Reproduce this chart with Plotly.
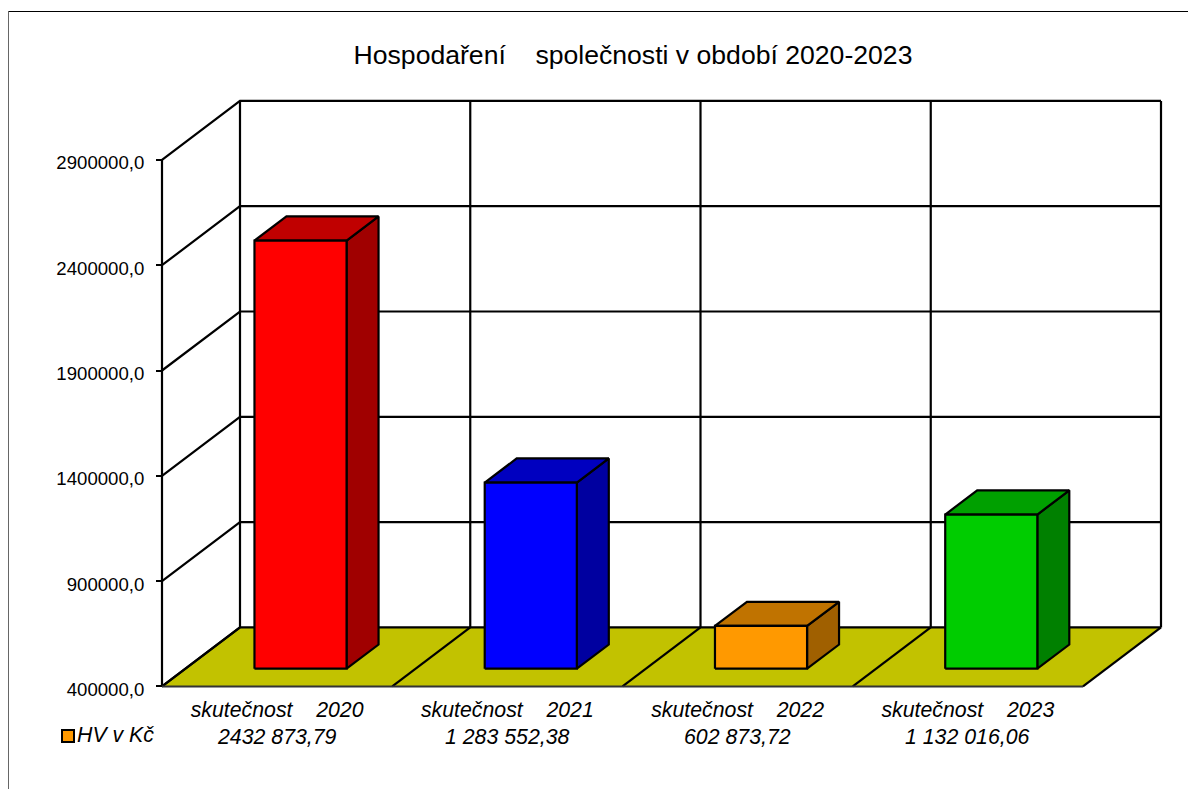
import plotly.graph_objects as go

# --- data ---
categories = ["skutečnost    2020", "skutečnost    2021", "skutečnost    2022", "skutečnost    2023"]
value_labels = ["2432 873,79", "1 283 552,38", "602 873,72", "1 132 016,06"]
values = [2432873.79, 1283552.38, 602873.72, 1132016.06]
y_ticks = [400000, 900000, 1400000, 1900000, 2400000, 2900000]
y_tick_labels = ["400000,0", "900000,0", "1400000,0", "1900000,0", "2400000,0", "2900000,0"]
series_name = "HV v Kč"
title = "Hospodaření    společnosti v období 2020-2023"
front_colors = ["#FF0000", "#0000FF", "#FF9900", "#00CC00"]
top_colors = ["#C00000", "#0000C0", "#C07300", "#00A000"]
side_colors = ["#A00000", "#0000A0", "#A06000", "#008000"]
floor_color = "#C2C200"

# --- layout geometry ---
W, H = 1188, 789
X0, CAT_W = 162.0, 230.25     # px of category 0, px per category
Y0, PX_PER_UNIT = 686.4, 105.3 / 500000  # px of y base, px per value unit
DEPTH_X = 78 / CAT_W          # wall depth in category units
DEPTH_Y = 59 / PX_PER_UNIT    # wall depth in value units
BAR_NEAR, BAR_FAR = 0.30, 0.71  # bar front/back as fraction of depth
BAR_W = 0.40
n = len(categories)
base, top = y_ticks[0], y_ticks[-1]

x_range = [-X0 / CAT_W, (W - X0) / CAT_W]
y_range = [base - (H - Y0) / PX_PER_UNIT, base + Y0 / PX_PER_UNIT]

fig = go.Figure()


def poly(xs, ys, fill=None, width=2.2, color="#000000"):
    closed = fill is not None
    fig.add_trace(go.Scatter(
        x=list(xs) + ([xs[0]] if closed else []),
        y=list(ys) + ([ys[0]] if closed else []),
        mode="lines",
        line=dict(color=color, width=width),
        fill="toself" if closed else None,
        fillcolor=fill,
        hoverinfo="skip",
        showlegend=False,
    ))


# floor
poly([0, n, n + DEPTH_X, DEPTH_X], [base, base, base + DEPTH_Y, base + DEPTH_Y],
     fill=floor_color, width=0.1, color=floor_color)

# walls: horizontals and side diagonals
for v in y_ticks:
    poly([0, DEPTH_X, n + DEPTH_X], [v, v + DEPTH_Y, v + DEPTH_Y])
# verticals
poly([0, 0], [base, top])
for i in range(n + 1):
    poly([i + DEPTH_X, i + DEPTH_X], [base + DEPTH_Y, top + DEPTH_Y])
    poly([i, i + DEPTH_X], [base, base + DEPTH_Y])
poly([0, n], [base, base], color="#333333", width=2.0)

# 3D bars
for i, v in enumerate(values):
    left = i + 0.5 - BAR_W / 2 + BAR_NEAR * DEPTH_X
    right = left + BAR_W
    bottom = base + BAR_NEAR * DEPTH_Y
    height = v - base
    up = bottom + height
    dx = (BAR_FAR - BAR_NEAR) * DEPTH_X
    dy = (BAR_FAR - BAR_NEAR) * DEPTH_Y
    poly([right, right + dx, right + dx, right], [bottom, bottom + dy, up + dy, up], fill=side_colors[i])
    poly([left, right, right + dx, left + dx], [up, up, up + dy, up + dy], fill=top_colors[i])
    poly([left, right, right, left], [bottom, bottom, up, up], fill=front_colors[i])

FONT = "Liberation Sans, Arial, sans-serif"
LABEL_SIZE = 21.3
annotations = [
    dict(x=i + 0.5, xref="x", y=1 - 737 / H, yref="paper", text=t, showarrow=False,
         xanchor="center", yanchor="middle",
         font=dict(family=FONT, size=LABEL_SIZE, color="#000000", style="italic"))
    for i, t in enumerate(value_labels)
]
annotations.append(dict(x=77 / W, xref="paper", y=1 - 735 / H, yref="paper", text=series_name,
                        showarrow=False, xanchor="left", yanchor="middle", xshift=-2,
                        font=dict(family=FONT, size=LABEL_SIZE, color="#000000", style="italic")))

shapes = [
    dict(type="line", xref="paper", yref="paper", x0=8.5 / W, x1=8.5 / W, y0=0, y1=1 - 11.5 / H,
         line=dict(color="#666666", width=1)),
    dict(type="line", xref="paper", yref="paper", x0=8.5 / W, x1=1, y0=1 - 11.5 / H, y1=1 - 11.5 / H,
         line=dict(color="#000000", width=1)),
    dict(type="rect", xref="paper", yref="paper", x0=62 / W, x1=74 / W, y0=1 - 742 / H, y1=1 - 730 / H,
         fillcolor=front_colors[2], line=dict(color="#000000", width=2)),
]

fig.update_layout(
    width=W, height=H,
    margin=dict(l=0, r=0, t=0, b=0),
    autosize=False,
    paper_bgcolor="#FFFFFF",
    plot_bgcolor="#FFFFFF",
    showlegend=False,
    title=dict(text=title, x=633 / W, xanchor="center", y=1 - 55 / H, yanchor="middle",
               font=dict(family=FONT, size=26.6, color="#000000")),
    xaxis=dict(
        range=x_range, domain=[0, 1], anchor="free", position=1 - Y0 / H,
        tickmode="array", tickvals=[i + 0.5 for i in range(n)], ticktext=categories,
        ticks="", showgrid=False, zeroline=False, showline=False, ticklabelstandoff=8,
        tickfont=dict(family=FONT, size=LABEL_SIZE, color="#000000", style="italic"),
    ),
    yaxis=dict(
        range=y_range, domain=[0, 1], anchor="free", position=X0 / W,
        tickmode="array", tickvals=y_ticks, ticktext=y_tick_labels,
        ticks="outside", ticklen=6, tickcolor="#000000", tickwidth=1.5,
        showgrid=False, zeroline=False, showline=False, ticklabelstandoff=8, ticklabelshift=3,
        tickfont=dict(family=FONT, size=18.6, color="#000000"),
    ),
    annotations=annotations,
    shapes=shapes,
)

fig.write_html("out.html", config={"displayModeBar": False},
               post_script="document.body.style.margin='0';document.body.style.overflow='hidden';")
